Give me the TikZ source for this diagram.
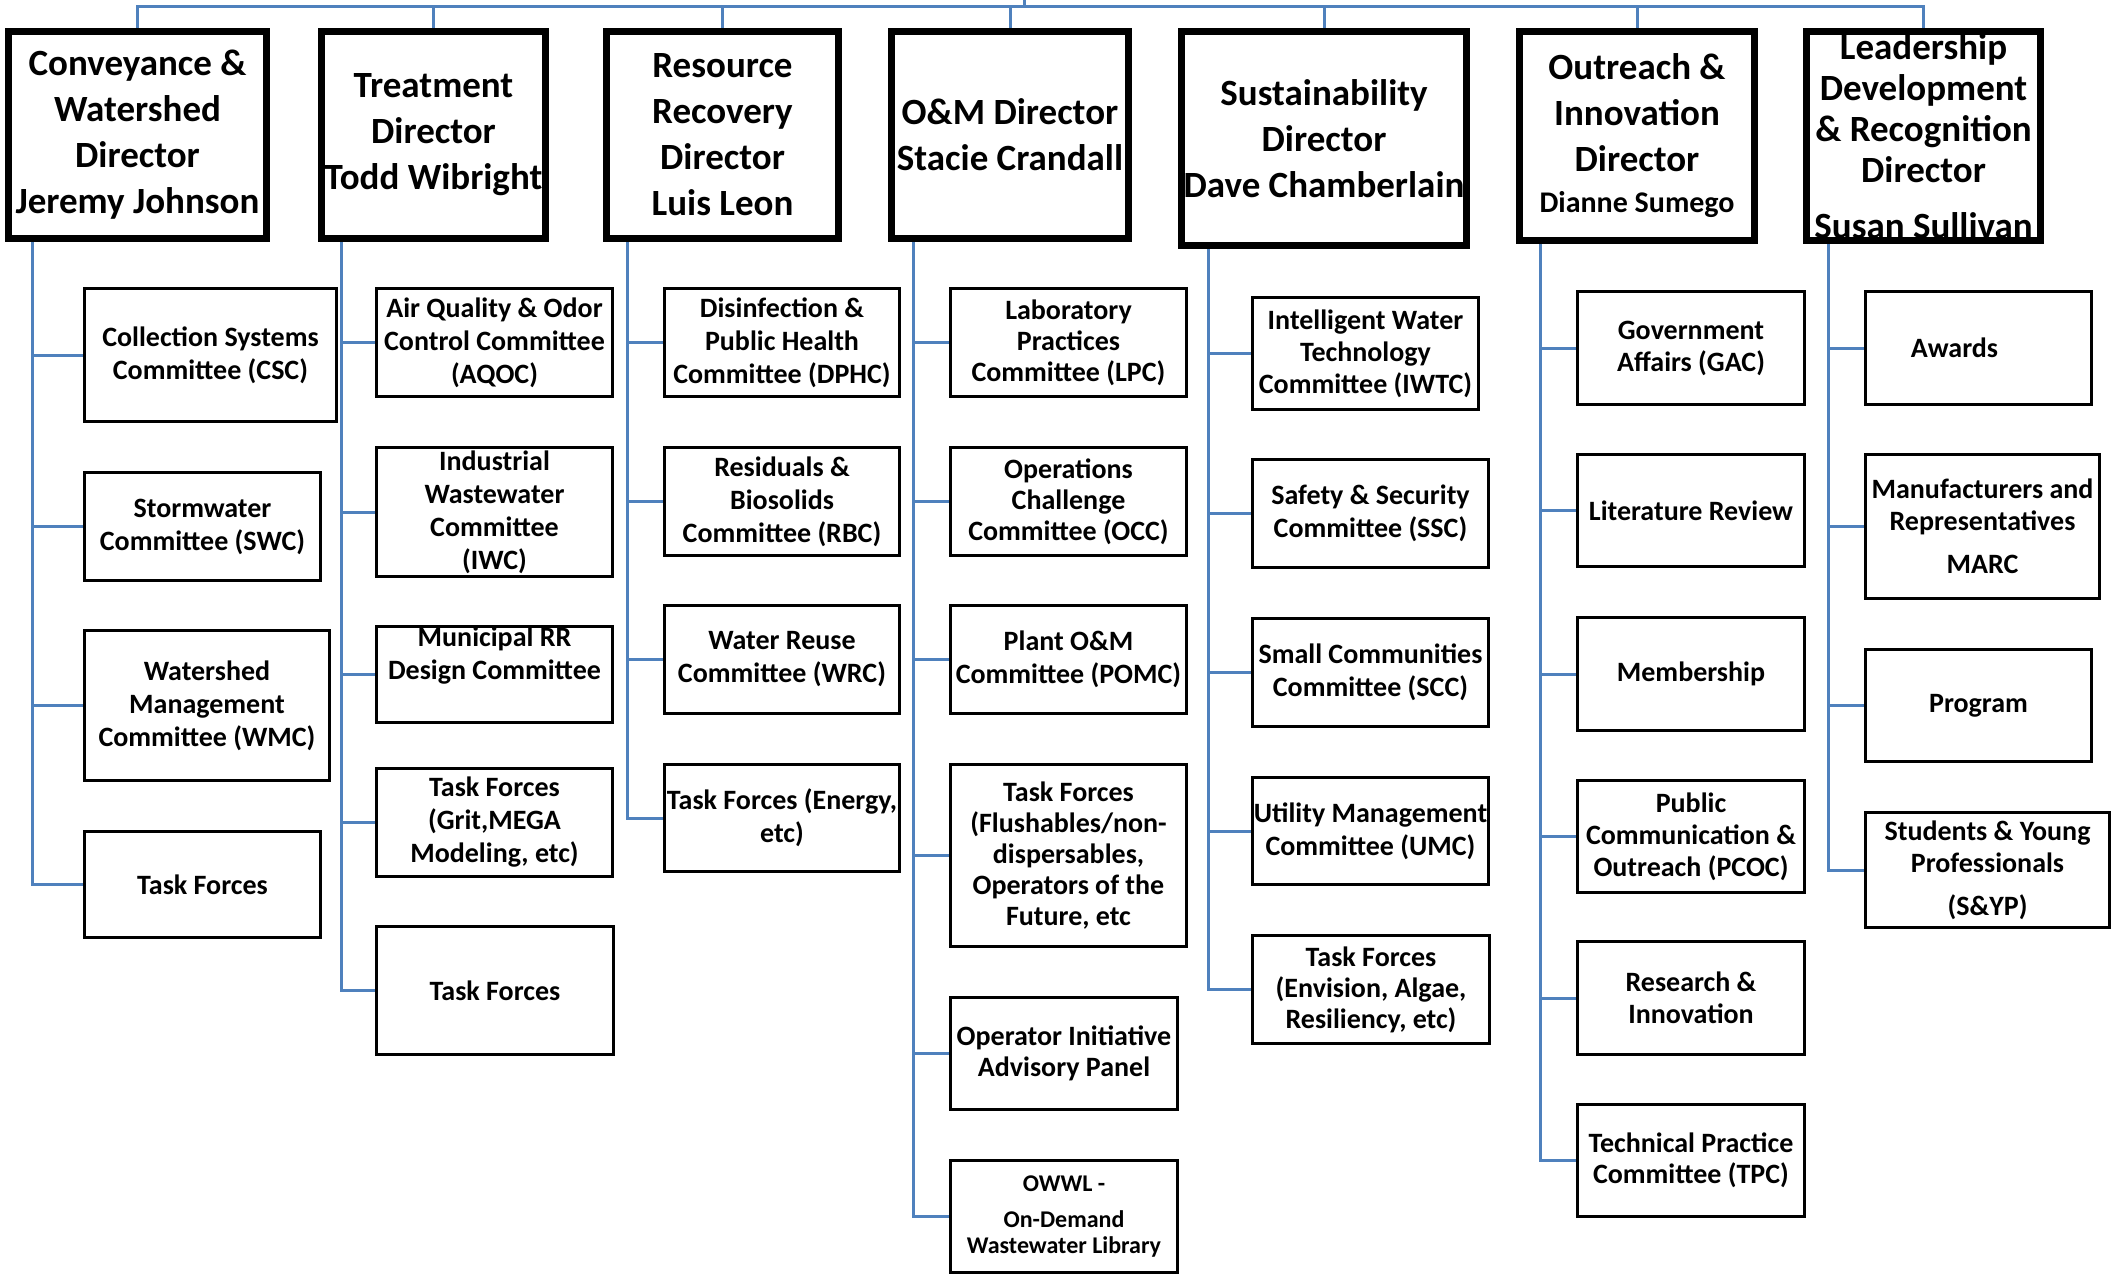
\documentclass[tikz,border=0pt]{standalone}
\usepackage{fontspec}
\setmainfont{Carlito}
\usepackage{tikz}
\usetikzlibrary{positioning,calc}
\definecolor{linkblue}{RGB}{79,129,189}

\begin{document}
\begin{tikzpicture}[x=1pt, y=-1pt,
    director/.style={rectangle, draw, line width=7pt, inner sep=0pt, anchor=north west, align=center, font=\bfseries\fontsize{37}{46}\selectfont},
    committee/.style={rectangle, draw, line width=3pt, inner sep=0pt, anchor=north west, align=center, font=\bfseries\fontsize{28}{33}\selectfont},
    link/.style={draw=linkblue, line width=3pt}]

\useasboundingbox (0,0) rectangle (2115,1278);

\node [director, minimum width=258, minimum height=207] at (5,28) (conv) {Conveyance \&\\Watershed\\Director\\Jeremy Johnson};
\node [director, minimum width=224, minimum height=207] at (318,28) (treat) {Treatment\\Director\\Todd Wibright};
\node [director, minimum width=232, minimum height=207] at (603,28) (resrc) {Resource\\Recovery\\Director\\Luis Leon};
\node [director, minimum width=237, minimum height=207] at (888,28) (om) {O\&M Director\\Stacie Crandall};
\node [director, minimum width=285, minimum height=214] at (1178,28) (sust) {Sustainability\\Director\\Dave Chamberlain};
\node [director, minimum width=235, minimum height=209] at (1516,28) (outr) {Outreach \&\\Innovation\\Director\\[-5pt]{\fontsize{30}{42}\selectfont Dianne Sumego}};
\node [director, minimum width=234, minimum height=209, font=\bfseries\fontsize{37}{41}\selectfont] at (1803,28) (lead) {Leadership\\Development\\\& Recognition\\Director\\[15pt]Susan Sullivan};

\node [committee, minimum width=252, minimum height=133] at (83,287) (csc) {Collection Systems\\Committee (CSC)};
\node [committee, minimum width=236, minimum height=108] at (83,471) (swc) {Stormwater\\Committee (SWC)};
\node [committee, minimum width=245, minimum height=150] at (83,629) (wmc) {Watershed\\Management\\Committee (WMC)};
\node [committee, minimum width=236, minimum height=106] at (83,830) (convtf) {Task Forces};

\node [committee, minimum width=236, minimum height=108] at (375,287) (aqoc) {Air Quality \& Odor\\Control Committee\\(AQOC)};
\node [committee, minimum width=236, minimum height=129] at (375,446) (iwc) {Industrial\\Wastewater\\Committee\\(IWC)};
\node [committee, minimum width=236, minimum height=91] at (375,625) (mrr) {Municipal RR\\Design Committee\\\strut};
\node [committee, minimum width=236, minimum height=108] at (375,767) (grit) {Task Forces\\(Grit,MEGA\\Modeling, etc)};
\node [committee, minimum width=237, minimum height=128] at (375,925) (treattf) {Task Forces};

\node [committee, minimum width=235, minimum height=108] at (663,287) (dphc) {Disinfection \&\\Public Health\\Committee (DPHC)};
\node [committee, minimum width=235, minimum height=108] at (663,446) (rbc) {Residuals \&\\Biosolids\\Committee (RBC)};
\node [committee, minimum width=235, minimum height=108] at (663,604) (wrc) {Water Reuse\\Committee (WRC)};
\node [committee, minimum width=235, minimum height=107] at (663,763) (energy) {Task Forces (Energy,\\etc)};

\node [committee, minimum width=236, minimum height=108, font=\bfseries\fontsize{28}{31}\selectfont] at (949,287) (lpc) {Laboratory\\Practices\\Committee (LPC)};
\node [committee, minimum width=236, minimum height=108, font=\bfseries\fontsize{28}{31}\selectfont] at (949,446) (occ) {Operations\\Challenge\\Committee (OCC)};
\node [committee, minimum width=236, minimum height=108] at (949,604) (pomc) {Plant O\&M\\Committee (POMC)};
\node [committee, minimum width=236, minimum height=182, font=\bfseries\fontsize{28}{31}\selectfont] at (949,763) (flush) {Task Forces\\(Flushables/non-\\dispersables,\\Operators of the\\Future, etc};
\node [committee, minimum width=227, minimum height=112, font=\bfseries\fontsize{28}{31}\selectfont] at (949,996) (oiap) {Operator Initiative\\Advisory Panel};
\node [committee, minimum width=227, minimum height=112, font=\bfseries\fontsize{24}{26}\selectfont] at (949,1159) (owwl) {OWWL -\\[10pt]On-Demand\\Wastewater Library};

\node [committee, minimum width=226, minimum height=112, font=\bfseries\fontsize{28}{32}\selectfont] at (1251,296) (iwtc) {Intelligent Water\\Technology\\Committee (IWTC)};
\node [committee, minimum width=236, minimum height=108] at (1251,458) (ssc) {Safety \& Security\\Committee (SSC)};
\node [committee, minimum width=236, minimum height=108] at (1251,617) (scc) {Small Communities\\Committee (SCC)};
\node [committee, minimum width=236, minimum height=107] at (1251,776) (umc) {Utility Management\\Committee (UMC)};
\node [committee, minimum width=237, minimum height=108, font=\bfseries\fontsize{28}{31}\selectfont] at (1251,934) (envision) {Task Forces\\(Envision, Algae,\\Resiliency, etc)};

\node [committee, minimum width=227, minimum height=113, font=\bfseries\fontsize{28}{32}\selectfont] at (1576,290) (gac) {Government\\Affairs (GAC)};
\node [committee, minimum width=227, minimum height=112] at (1576,453) (litrev) {Literature Review};
\node [committee, minimum width=227, minimum height=113] at (1576,616) (member) {Membership};
\node [committee, minimum width=227, minimum height=112, font=\bfseries\fontsize{28}{32}\selectfont] at (1576,779) (pcoc) {Public\\Communication \&\\Outreach (PCOC)};
\node [committee, minimum width=227, minimum height=113, font=\bfseries\fontsize{28}{32}\selectfont] at (1576,940) (rni) {Research \&\\Innovation};
\node [committee, minimum width=227, minimum height=112, font=\bfseries\fontsize{28}{31}\selectfont] at (1576,1103) (tpc) {Technical Practice\\Committee (TPC)};

\node [committee, minimum width=226, minimum height=113] at (1864,290) (awards) {Awards\hspace*{48pt}};
\node [committee, minimum width=234, minimum height=144, font=\bfseries\fontsize{28}{32}\selectfont] at (1864,453) (marc) {Manufacturers and\\Representatives\\[11pt]MARC};
\node [committee, minimum width=226, minimum height=112] at (1864,648) (program) {Program};
\node [committee, minimum width=244, minimum height=115, font=\bfseries\fontsize{28}{32}\selectfont] at (1864,811) (syp) {Students \& Young\\Professionals\\[11pt](S\&YP)};

\coordinate (root) at (1024,0);
\coordinate (bar) at (1024,6);

\draw [link] (root) -- (bar);
\draw [link] (bar) -| (conv.north);
\draw [link] (bar) -| (treat.north);
\draw [link] (bar) -| (resrc.north);
\draw [link] (bar) -| (om.north);
\draw [link] (bar) -| (sust.north);
\draw [link] (bar) -| (outr.north);
\draw [link] (bar) -| (lead.north);

\foreach \sub in {csc,swc,wmc,convtf}
  \draw [link] ([xshift=27pt]conv.south west) |- (\sub.west);
\foreach \sub in {aqoc,iwc,mrr,grit,treattf}
  \draw [link] ([xshift=23pt]treat.south west) |- (\sub.west);
\foreach \sub in {dphc,rbc,wrc,energy}
  \draw [link] ([xshift=24pt]resrc.south west) |- (\sub.west);
\foreach \sub in {lpc,occ,pomc,flush,oiap,owwl}
  \draw [link] ([xshift=25pt]om.south west) |- (\sub.west);
\foreach \sub in {iwtc,ssc,scc,umc,envision}
  \draw [link] ([xshift=30pt]sust.south west) |- (\sub.west);
\foreach \sub in {gac,litrev,member,pcoc,rni,tpc}
  \draw [link] ([xshift=24pt]outr.south west) |- (\sub.west);
\foreach \sub in {awards,marc,program,syp}
  \draw [link] ([xshift=25pt]lead.south west) |- (\sub.west);

\end{tikzpicture}
\end{document}
